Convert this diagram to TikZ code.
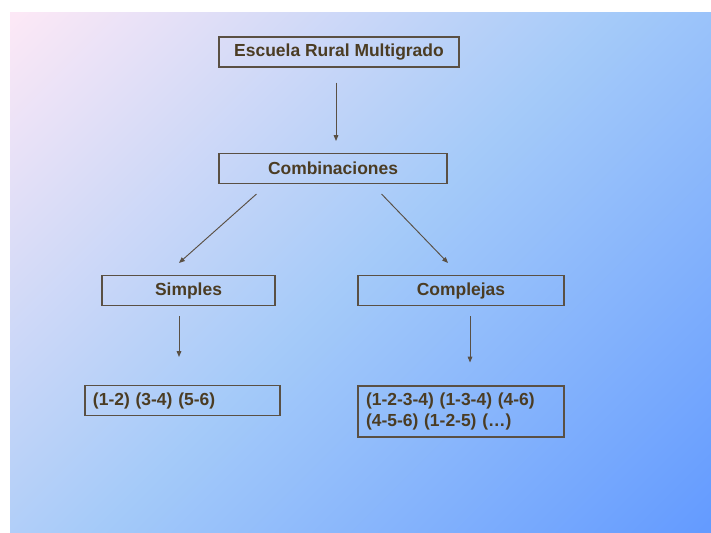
\documentclass[tikz,border=0pt]{standalone}
\usepackage{fontspec}
\setmainfont{Liberation Sans}
\usepackage{xcolor}
\usetikzlibrary{positioning, calc, arrows.meta}

\definecolor{txtbrown}{RGB}{75,60,35}
\definecolor{boxline}{RGB}{90,80,68}
\definecolor{bgtl}{RGB}{252,232,246}
\definecolor{bgmid}{RGB}{164,202,249}
\definecolor{bgbr}{RGB}{100,155,255}
\pgfdeclarehorizontalshading{bgshade}{100bp}{color(0bp)=(bgtl); color(15bp)=(bgtl);
  color(50bp)=(bgmid); color(85bp)=(bgbr); color(100bp)=(bgbr)}

\begin{document}
\begin{tikzpicture}[
    x=0.03cm, y=-0.03cm,
    box/.style={draw=boxline, line width=0.9pt, minimum height=0.9cm,
                align=center, text=txtbrown, inner sep=2pt,
                font=\fontsize{14.9}{17.9}\selectfont\bfseries},
    leaf/.style={box, align=left, inner xsep=0.24cm},
    arw/.style={-{Triangle[length=5pt, width=4pt]}, draw=boxline, line width=0.8pt},
]
\useasboundingbox (0,0) rectangle (711,532);
\shade[shading=bgshade, shading angle=-45] (10,12) rectangle (711,532);

\node[box, minimum width=7.2cm] (escuela) at (339,52) {Escuela Rural Multigrado};
\node[box, minimum width=6.84cm] (comb) at (333,168.5) {Combinaciones};
\node[box, minimum width=5.19cm] (simp) at (188.5,290.5) {Simples};
\node[box, minimum width=6.18cm] (comp) at (461,290.5) {Complejas};
\node[leaf, text width=5.37cm] (simpl) at (182.5,400.5) {(1-2) (3-4) (5-6)};
\node[leaf, text width=5.7cm, minimum height=1.53cm] (compl) at (461,411.5)
    {(1-2-3-4) (1-3-4) (4-6)\\(4-5-6) (1-2-5) (\ldots)};

\draw[arw] ($(escuela.south)+(-3,15)$) -- ($(comb.north)+(3,-12)$);
\draw[arw] ($(comb.south west)+(38,10)$) -- ($(simp.north)+(-9.5,-12)$);
\draw[arw] ($(comb.south east)+(-66,10)$) -- ($(comp.north)+(-13,-12)$);
\draw[arw] ($(simp.south)+(-9.5,10)$) -- ($(simpl.north)+(-3.5,-28)$);
\draw[arw] ($(comp.south)+(9,10)$) -- ($(compl.north)+(9,-23)$);
\end{tikzpicture}
\end{document}
